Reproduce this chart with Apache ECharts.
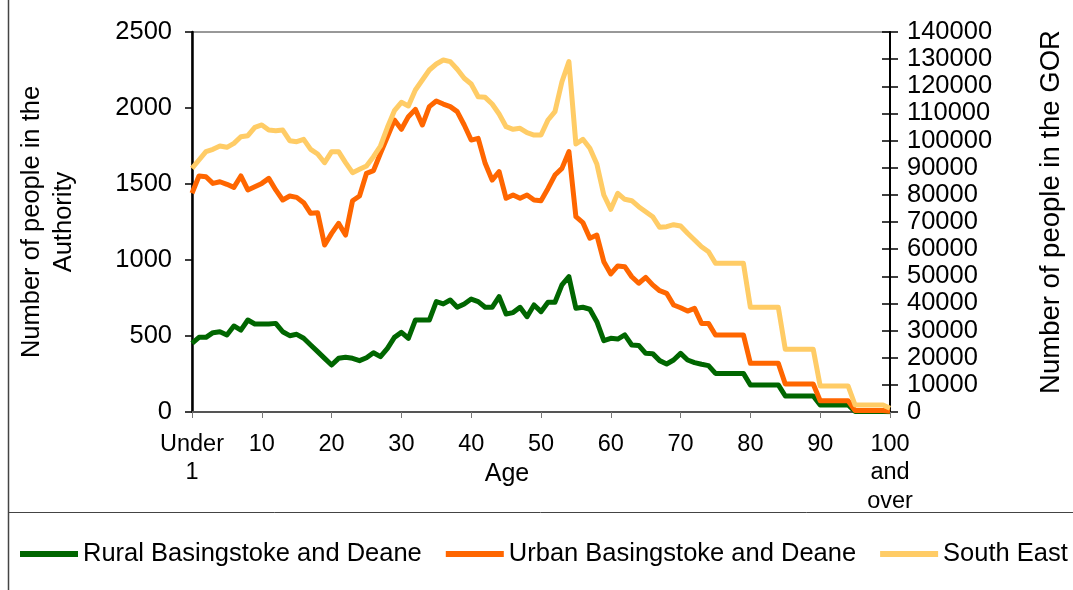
<!DOCTYPE html>
<html>
<head>
<meta charset="utf-8">
<script src="https://cdn.jsdelivr.net/npm/echarts@6/dist/echarts.min.js"></script>
<style>
html,body{margin:0;padding:0;background:#fff;}
#chart{width:1073px;height:590px;}
</style>
</head>
<body>
<div id="chart"></div>
<script>
const ages = ['Under 1','1','2','3','4','5','6','7','8','9','10','11','12','13','14','15','16','17','18','19','20',
'21','22','23','24','25','26','27','28','29','30','31','32','33','34','35','36','37','38','39','40',
'41','42','43','44','45','46','47','48','49','50','51','52','53','54','55','56','57','58','59','60',
'61','62','63','64','65','66','67','68','69','70','71','72','73','74','75','76','77','78','79','80',
'81','82','83','84','85','86','87','88','89','90','91','92','93','94','95','96','97','98','99','100 and over'];

const rural = [452,491,491,522,528,507,566,539,605,579,579,579,583,528,502,511,485,441,397,353,309,
353,360,353,338,357,390,364,419,491,524,485,605,605,605,726,711,737,689,711,743,
726,689,689,759,645,654,689,627,704,660,722,722,836,890,682,689,676,594,469,485,
480,507,441,438,386,384,338,316,342,386,342,325,314,305,254,254,254,254,254,178,
178,178,178,178,105,105,105,105,105,46,46,46,46,46,3,3,3,3,3,1];

const urban = [1439,1553,1548,1504,1515,1498,1478,1553,1461,1482,1504,1537,1461,1395,1421,1412,1377,1307,1311,1099,1175,
1241,1164,1390,1421,1570,1588,1702,1811,1921,1860,1943,1991,1888,2009,2046,2026,2009,1976,1888,1789,
1800,1636,1526,1581,1406,1428,1406,1428,1395,1390,1471,1559,1603,1713,1285,1246,1143,1164,989,908,
961,956,890,847,886,836,798,781,704,686,664,682,583,583,507,507,507,507,507,320,
320,320,320,320,184,184,184,184,184,74,74,74,74,74,10,10,10,10,10,5];

const southEast = [89780,92840,95900,96780,98000,97520,98990,101430,101800,104880,105740,103890,103640,103890,99950,99590,100460,96780,95050,91850,95900,
95900,91850,88170,89410,90630,94070,98000,104880,111000,114100,112740,118630,122320,126000,128210,129680,129070,126260,122940,120840,
116170,115930,113470,109790,105120,104150,104520,102910,102050,102050,107580,110640,121690,129070,98740,100460,97150,91370,79950,74680,
80570,78360,77850,75640,73800,71950,68040,68270,69000,68500,65840,63370,60900,59060,54780,54780,54780,54780,54780,38570,
38570,38570,38570,38570,23100,23100,23100,23100,23100,9580,9580,9580,9580,9580,2580,2580,2580,2580,2580,1360];

const seriesNames = ['Rural Basingstoke and Deane','Urban Basingstoke and Deane','South East'];
const colors = ['#006600','#FF6600','#FFCC66'];

const FONT = 'Liberation Sans, Arial, sans-serif';
const FS = 25.5;
const chart = echarts.init(document.getElementById('chart'), null, {renderer:'canvas'});
const plain = v => String(v);

chart.setOption({
  animation: false,
  backgroundColor: '#fff',
  color: colors,
  textStyle: {fontFamily: FONT, color: '#000'},
  grid: {left: 192, right: 181, top: 32, bottom: 178, show: true, borderColor: '#333', borderWidth: 1},
  legend: {
    left: 20, top: 541, width: 1053, padding: 0, itemGap: 24, itemWidth: 58, itemHeight: 6, icon: 'rect',
    textStyle: {fontFamily: FONT, fontSize: 25.5, color: '#000'},
    data: seriesNames
  },
  graphic: [
    {type: 'line', shape: {x1: 8.5, y1: 0, x2: 8.5, y2: 590}, style: {stroke: '#444', lineWidth: 1.5}},
    {type: 'line', shape: {x1: 8, y1: 512.5, x2: 1073, y2: 512.5}, style: {stroke: '#444', lineWidth: 1}}
  ],
  xAxis: {
    type: 'category', data: ages, boundaryGap: false,
    name: 'Age', nameLocation: 'middle', nameGap: 50, nameMoveOverlap: false,
    nameTextStyle: {fontFamily: FONT, fontSize: 25, color: '#000', padding: [0, 68, 0, 0]},
    axisLine: {lineStyle: {color: '#555', width: 2}},
    axisTick: {interval: 9, length: 6, lineStyle: {color: '#777', width: 1}},
    axisLabel: {
      interval: 9, margin: 18, fontFamily: FONT, fontSize: 23.5, color: '#000', lineHeight: 28.5,
      formatter: v => v === 'Under 1' ? 'Under\n1' : (v === '100 and over' ? '100\nand\nover' : v)
    },
    splitLine: {show: false}
  },
  yAxis: [
    {
      type: 'value', position: 'left', min: 0, max: 2500, interval: 500,
      name: 'Number of people in the\nAuthority', nameLocation: 'middle', nameGap: 112, nameRotate: 90,
      nameMoveOverlap: false,
      nameTextStyle: {fontFamily: FONT, fontSize: FS, color: '#000', lineHeight: 32},
      axisLine: {show: true, lineStyle: {color: '#000', width: 2.5}},
      axisTick: {show: true, length: 7, lineStyle: {color: '#000', width: 1.5}},
      axisLabel: {margin: 20, fontFamily: FONT, fontSize: FS, color: '#000', formatter: plain},
      splitLine: {show: false}
    },
    {
      type: 'value', position: 'right', min: 0, max: 140000, interval: 10000,
      name: 'Number of people in the GOR', nameLocation: 'middle', nameGap: 147, nameRotate: 90,
      nameMoveOverlap: false,
      nameTextStyle: {fontFamily: FONT, fontSize: 27.5, color: '#000', padding: [0, 0, 0, 20]},
      axisLine: {show: true, lineStyle: {color: '#000', width: 2}},
      axisTick: {show: true, length: 8, lineStyle: {color: '#000', width: 1.5}},
      axisLabel: {margin: 17, fontFamily: FONT, fontSize: FS, color: '#000', formatter: plain},
      splitLine: {show: false}
    },
    {
      type: 'value', position: 'right', min: 0, max: 140000, interval: 10000,
      axisLine: {show: false},
      axisTick: {show: true, inside: true, length: 8, lineStyle: {color: '#000', width: 1.5}},
      axisLabel: {show: false},
      splitLine: {show: false}
    }
  ],
  series: [
    {name: seriesNames[0], type: 'line', yAxisIndex: 0, data: rural, showSymbol: false, symbol: 'none',
     lineStyle: {width: 5, color: colors[0], join: 'round'}, itemStyle: {color: colors[0]}},
    {name: seriesNames[1], type: 'line', yAxisIndex: 0, data: urban, showSymbol: false, symbol: 'none',
     lineStyle: {width: 5, color: colors[1], join: 'round'}, itemStyle: {color: colors[1]}},
    {name: seriesNames[2], type: 'line', yAxisIndex: 1, data: southEast, showSymbol: false, symbol: 'none',
     lineStyle: {width: 5, color: colors[2], join: 'round'}, itemStyle: {color: colors[2]}}
  ]
});
</script>
</body>
</html>
